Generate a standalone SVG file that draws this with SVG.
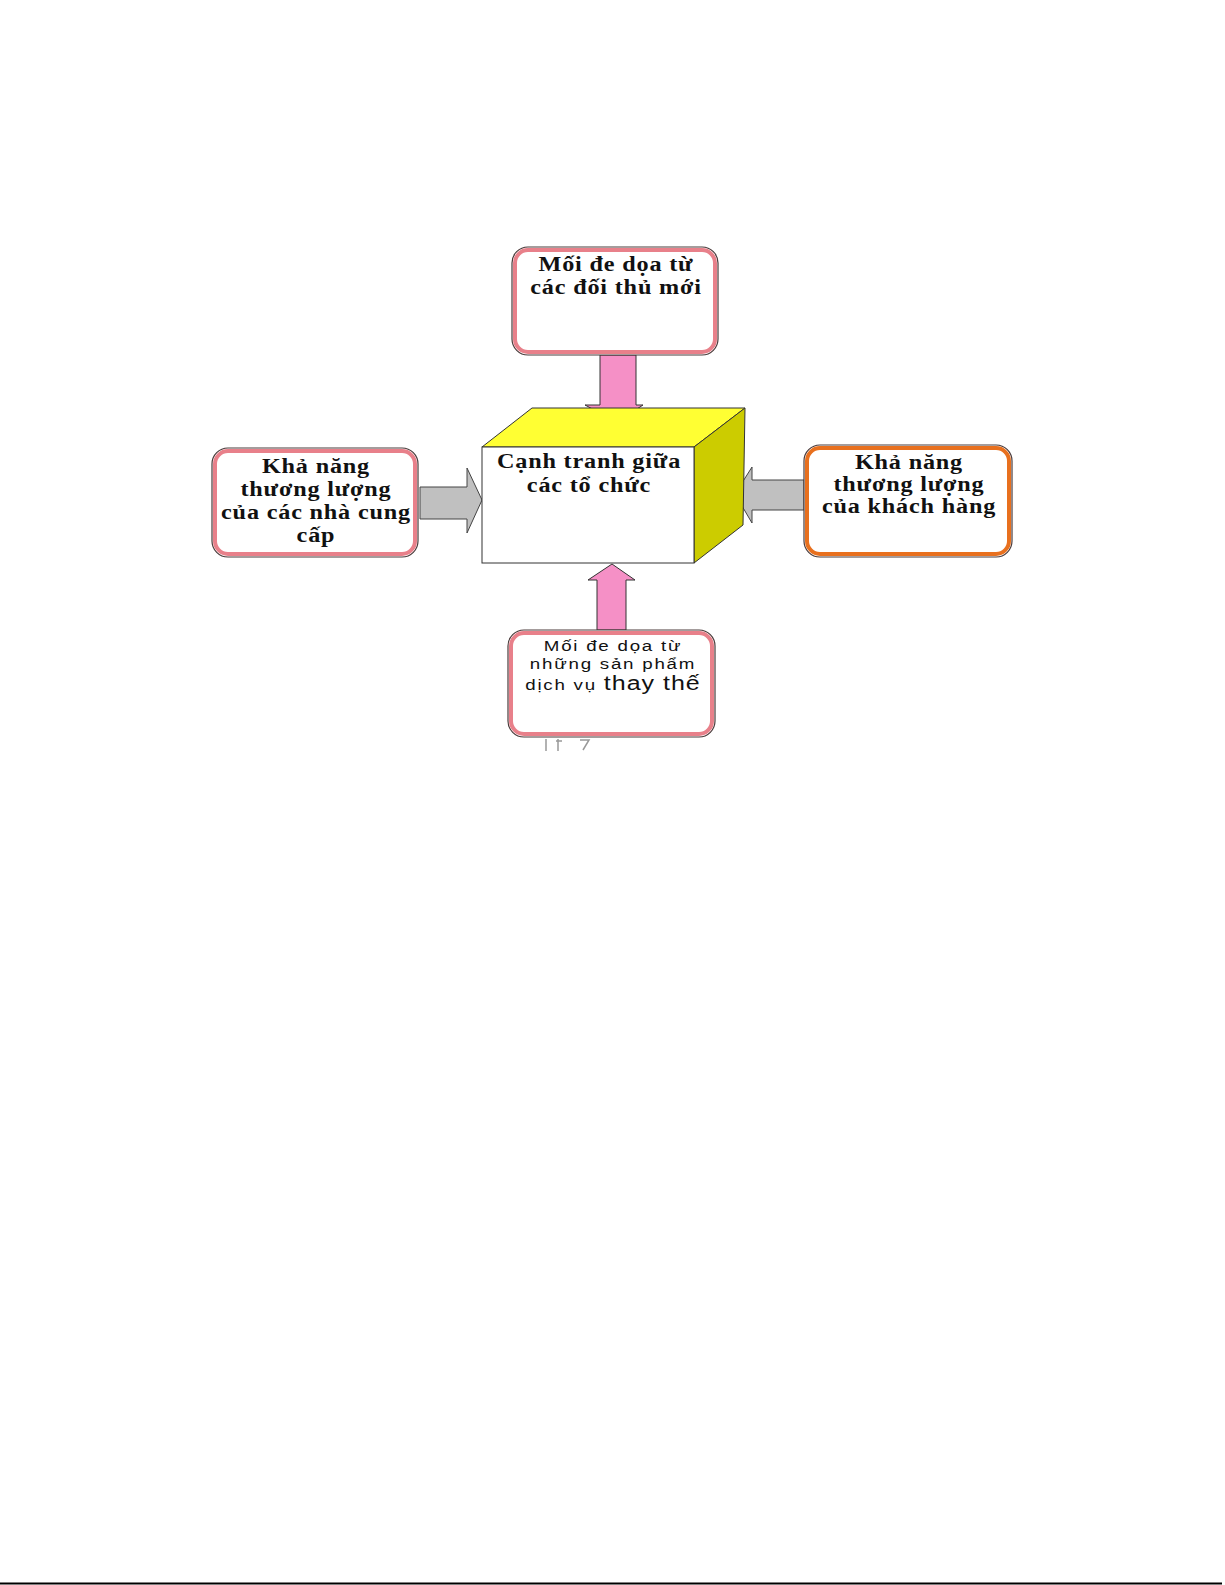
<svg xmlns="http://www.w3.org/2000/svg" width="1225" height="1585" viewBox="0 0 1225 1585">
<style>
.outer{fill:#ffffff;stroke:#4a3a3a;stroke-width:1.2}
.pink{fill:none;stroke:#e8808a;stroke-width:4}
.orange{fill:none;stroke:#e8701e;stroke-width:4}
.serif{font-family:"Liberation Serif","Times New Roman",serif;font-weight:bold;fill:#111;text-anchor:middle;font-size:22px;letter-spacing:0.75px}
.sans{font-family:"Liberation Sans",Arial,sans-serif;fill:#111;text-anchor:middle;font-size:15px;letter-spacing:1.4px}
.parr{fill:#f590c6;stroke:#333;stroke-width:1}
.garr{fill:#c0c0c0;stroke:#444;stroke-width:1}
</style>
<rect width="1225" height="1585" fill="#ffffff"/>
<g id="connectors">
<polygon class="parr" points="600,355 636,355 636,405 643,405 617,422 585,405 600,405"/>
<polygon class="garr" points="420,487 467,487 467,468 482,500 467,533 467,519 420,519"/>
<polygon class="garr" points="804,480 752,480 752,467 735,494 752,523 752,510 804,510"/>
<polygon class="parr" points="597,630 626,630 626,580 635,580 612,564 588,580 597,580"/>
</g>
<g id="cube">
<polygon points="482,447 532,408 745,408 694,447" fill="#ffff33" stroke="#333" stroke-width="1"/>
<polygon points="694,447 745,408 743,525 694,563" fill="#cccc00" stroke="#333" stroke-width="1"/>
<rect x="482" y="447" width="212" height="116" fill="#ffffff" stroke="#333" stroke-width="1"/>
<text class="serif" transform="translate(589,0) scale(1.1,1) translate(-589,0)"><tspan x="589" y="468">Cạnh tranh giữa</tspan><tspan x="589" y="492">các tổ chức</tspan></text>
</g>
<g id="node-top">
<rect class="outer" x="512" y="247" width="206" height="108" rx="16"/>
<rect class="pink" x="515" y="250" width="200" height="102" rx="13"/>
<text class="serif" transform="translate(616,0) scale(1.1,1) translate(-616,0)"><tspan x="616" y="271">Mối đe dọa từ</tspan><tspan x="616" y="294">các đối thủ mới</tspan></text>
</g>
<g id="node-left">
<rect class="outer" x="212" y="448" width="206" height="109" rx="16"/>
<rect class="pink" x="215" y="451" width="200" height="103" rx="13"/>
<text class="serif" transform="translate(316,0) scale(1.1,1) translate(-316,0)"><tspan x="316" y="473">Khả năng</tspan><tspan x="316" y="496">thương lượng</tspan><tspan x="316" y="519">của các nhà cung</tspan><tspan x="316" y="542">cấp</tspan></text>
</g>
<g id="node-right">
<rect class="outer" x="804" y="445" width="208" height="112" rx="16"/>
<rect class="orange" x="807" y="448" width="202" height="106" rx="13"/>
<text class="serif" transform="translate(909,0) scale(1.1,1) translate(-909,0)"><tspan x="909" y="469">Khả năng</tspan><tspan x="909" y="491">thương lượng</tspan><tspan x="909" y="513">của khách hàng</tspan></text>
</g>
<g id="node-bottom">
<rect class="outer" x="508" y="630" width="207" height="107" rx="16"/>
<rect class="pink" x="511" y="633" width="201" height="101" rx="13"/>
<text class="sans" transform="translate(613,0) scale(1.25,1) translate(-613,0)"><tspan x="613" y="651">Mối đe dọa từ</tspan><tspan x="613" y="669">những sản phẩm</tspan><tspan x="613" y="690">dịch vụ <tspan font-size="20" letter-spacing="0.8px">thay thế</tspan></tspan></text>
</g>
<g id="artifacts" stroke="#999" stroke-width="1.5" fill="none">
<line x1="546" y1="739" x2="546" y2="751"/>
<line x1="558" y1="739" x2="558" y2="751"/>
<line x1="556" y1="741" x2="562" y2="741"/>
<path d="M580,740 L589,740 L583,750"/>
</g>
<line x1="0" y1="1583.5" x2="1222" y2="1583.5" stroke="#000" stroke-width="2"/>
</svg>
